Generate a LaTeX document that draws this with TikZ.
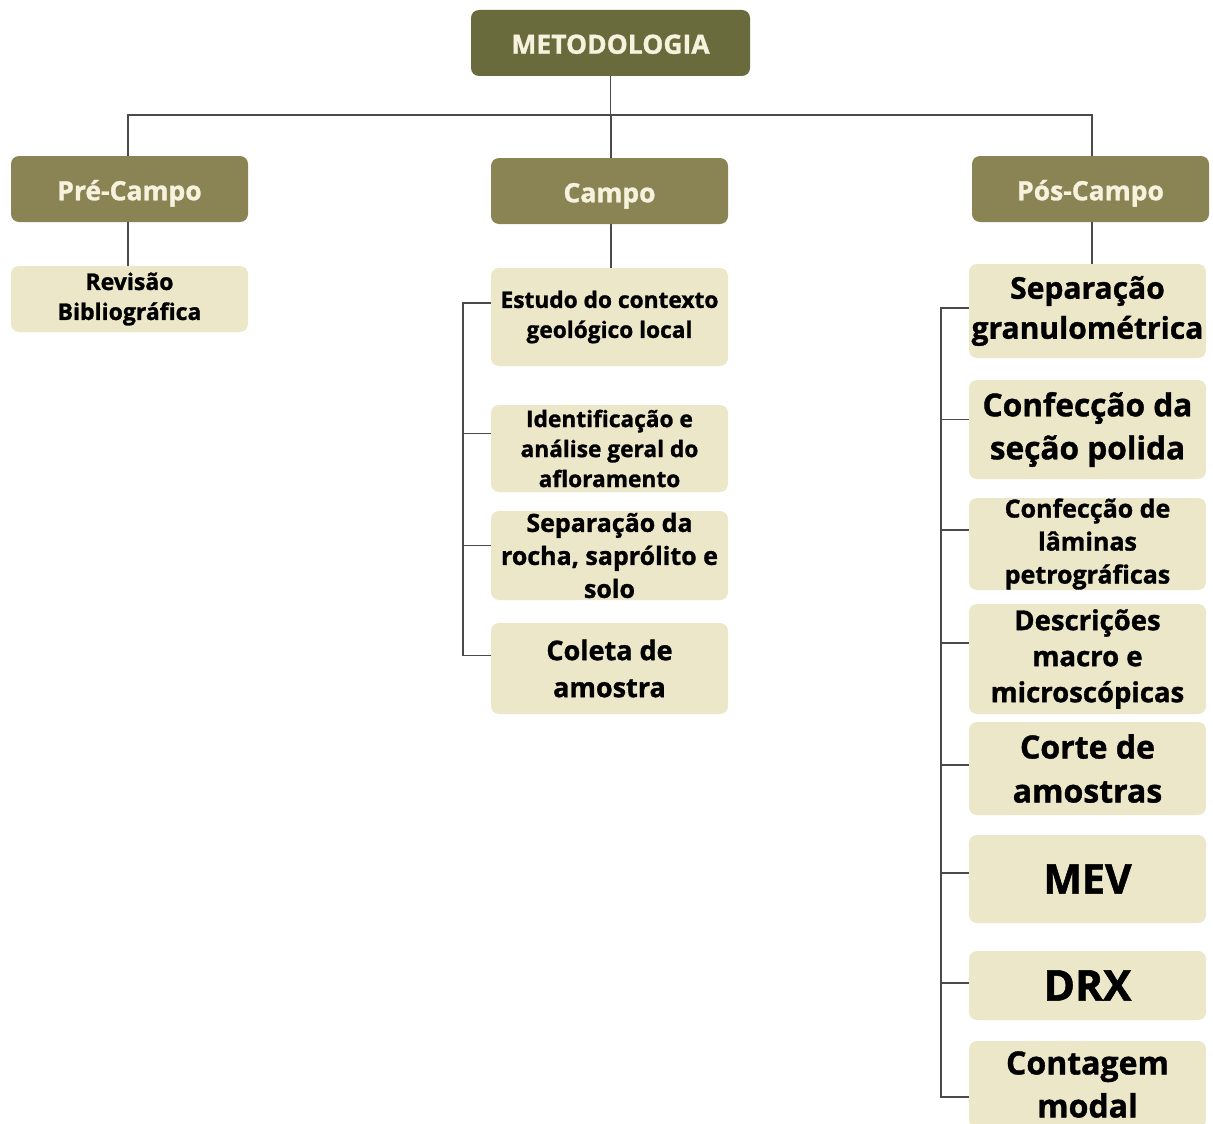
\documentclass[tikz,border=0pt]{standalone}
\usepackage{fontspec}
\setmainfont{Open Sans}[BoldFeatures={FakeBold=1.2}]
\newcommand\myfs[2]{\fontsize{#1}{#2}\selectfont}
\definecolor{metoc}{HTML}{6A6B3C}
\definecolor{headc}{HTML}{8A8455}
\definecolor{lightc}{HTML}{EDE7CA}
\definecolor{creamc}{HTML}{F6F2DE}
\definecolor{linec}{HTML}{4A4A4A}
\tikzset{
  darkbox/.style={rectangle, rounded corners=8pt, fill=headc, text=creamc, inner sep=0pt, align=center, minimum width=237pt, minimum height=66pt, text height=22.5pt, text depth=0pt, font=\bfseries\myfs{26.5}{30}},
  lightbox/.style={rectangle, rounded corners=8pt, fill=lightc, text=black, inner sep=0pt, align=center, minimum width=237pt},
  conn/.style={draw=linec, line width=1.6pt}
}
\begin{document}
\begin{tikzpicture}[x=1pt,y=-1pt]
\useasboundingbox[fill=white] (0,0) rectangle (1213,1124);
% top
\node[darkbox, fill=metoc, minimum width=279pt, text height=21.5pt, font=\bfseries\myfs{26.5}{30}] (meto) at (610.5,43) {METODOLOGIA};
\node[darkbox] (pre) at (129.5,189) {Pré-Campo};
\node[darkbox] (campo) at (609.5,191) {Campo};
\node[darkbox] (pos) at (1090.5,189) {Pós-Campo};
\coordinate (hl) at (128,115);
\draw[conn] (meto.south) -- (meto.south |- hl);
\draw[conn] ([xshift=-1.5pt]pre.north) -- ([xshift=-1.5pt]pre.north |- hl) -- ([xshift=1.5pt]pos.north |- hl) -- ([xshift=1.5pt]pos.north);
\draw[conn] ([xshift=1.5pt]campo.north) -- ([xshift=1.5pt]campo.north |- hl);
% pre
\node[lightbox, minimum height=66pt, font=\bfseries\myfs{23}{30}] (rev) at (129.5,299) {Revisão\\Bibliográfica};
\draw[conn] ([xshift=-1.5pt]pre.south) -- ([xshift=-1.5pt]rev.north);
% campo
\node[lightbox, minimum height=98pt, font=\bfseries\myfs{22.7}{30}] (c1) at (609.5,317) {Estudo do contexto\\geológico local};
\node[lightbox, minimum height=87pt, font=\bfseries\myfs{22.7}{30}] (c2) at (609.5,448.5) {Identificação e\\análise geral do\\afloramento};
\node[lightbox, minimum height=89pt, font=\bfseries\myfs{25}{33}] (c3) at (609.5,555.5) {Separação da\\rocha, saprólito e\\solo};
\node[lightbox, minimum height=91pt, font=\bfseries\myfs{27}{37}] (c4) at (609.5,668.5) {Coleta de\\amostra};
\draw[conn] ([xshift=1.5pt]campo.south) -- ([xshift=1.5pt]c1.north);
\coordinate (cb) at (463,0);
\draw[conn] ([yshift=14pt]c1.west) -- ([yshift=14pt]c1.west -| cb) -- ([yshift=13pt]c4.west -| cb) -- ([yshift=13pt]c4.west);
\draw[conn] ([yshift=15pt]c2.west) -- ([yshift=15pt]c2.west -| cb);
\draw[conn] ([yshift=10pt]c3.west) -- ([yshift=10pt]c3.west -| cb);
% pos
\node[lightbox, minimum height=94pt, font=\bfseries\myfs{30}{40}] (p1) at (1087.5,311) {Separação\\granulométrica};
\node[lightbox, minimum height=99pt, font=\bfseries\myfs{31.6}{43}] (p2) at (1087.5,429.5) {Confecção da\\seção polida};
\node[lightbox, minimum height=92pt, font=\bfseries\myfs{25}{33}] (p3) at (1087.5,544) {Confecção de\\lâminas\\petrográficas};
\node[lightbox, minimum height=110pt, font=\bfseries\myfs{27.5}{36}] (p4) at (1087.5,659) {Descrições\\macro e\\microscópicas};
\node[lightbox, minimum height=93pt, font=\bfseries\myfs{32}{44}] (p5) at (1087.5,768.5) {Corte de\\amostras};
\node[lightbox, minimum height=88pt, font=\bfseries\myfs{41}{44}] (p6) at (1087.5,879) {MEV};
\node[lightbox, minimum height=69pt, font=\bfseries\myfs{42.5}{44}] (p7) at (1087.5,985.5) {DRX};
\node[lightbox, minimum height=87pt, font=\bfseries\myfs{32}{43}] (p8) at (1087.5,1084.5) {Contagem\\modal};
\draw[conn] ([xshift=1.5pt]pos.south) -- ([xshift=1.5pt]pos.south |- p1.north);
\coordinate (pb) at (941,0);
\draw[conn] ([yshift=3pt]p1.west) -- ([yshift=3pt]p1.west -| pb) -- ([yshift=-12.5pt]p8.west -| pb) -- ([yshift=-12.5pt]p8.west);
\draw[conn] ([yshift=10pt]p2.west) -- ([yshift=10pt]p2.west -| pb);
\draw[conn] ([yshift=14pt]p3.west) -- ([yshift=14pt]p3.west -| pb);
\draw[conn] ([yshift=16pt]p4.west) -- ([yshift=16pt]p4.west -| pb);
\draw[conn] ([yshift=3.5pt]p5.west) -- ([yshift=3.5pt]p5.west -| pb);
\draw[conn] ([yshift=6pt]p6.west) -- ([yshift=6pt]p6.west -| pb);
\draw[conn] ([yshift=2.5pt]p7.west) -- ([yshift=2.5pt]p7.west -| pb);
\end{tikzpicture}
\end{document}
